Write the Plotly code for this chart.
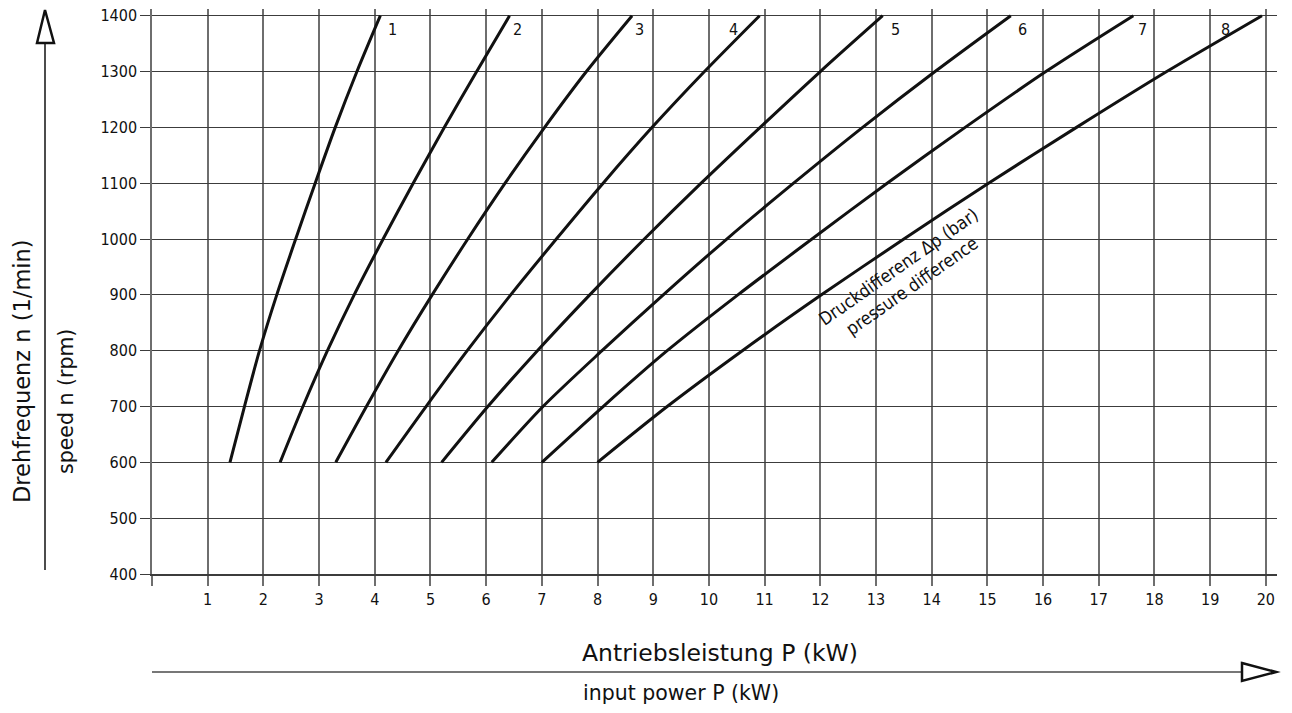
import plotly.graph_objects as go

# ---- data ----
speed_levels = [600, 700, 800, 900, 1000, 1100, 1200, 1300, 1400]
curve_labels = ["1", "2", "3", "4", "5", "6", "7", "8"]
power_dp1 = [1.40, 1.66, 1.93, 2.24, 2.58, 2.93, 3.29, 3.68, 4.10]
power_dp2 = [2.30, 2.71, 3.15, 3.63, 4.15, 4.69, 5.25, 5.83, 6.42]
power_dp3 = [3.30, 3.85, 4.42, 5.03, 5.67, 6.34, 7.05, 7.80, 8.62]
power_dp4 = [4.20, 4.92, 5.66, 6.44, 7.26, 8.10, 8.98, 9.92, 10.91]
power_dp5 = [5.20, 6.03, 6.92, 7.86, 8.84, 9.86, 10.92, 12.00, 13.12]
power_dp6 = [6.10, 7.02, 8.08, 9.18, 10.32, 11.52, 12.76, 14.06, 15.42]
power_dp7 = [7.00, 8.10, 9.25, 10.52, 11.85, 13.20, 14.60, 16.05, 17.62]
power_dp8 = [8.00, 9.25, 10.60, 12.02, 13.50, 15.02, 16.60, 18.22, 19.93]
power_series = [power_dp1, power_dp2, power_dp3, power_dp4,
                power_dp5, power_dp6, power_dp7, power_dp8]

x_ticks = list(range(0, 21))
x_tick_text = [""] + [str(v) for v in range(1, 21)]
y_ticks = list(range(400, 1401, 100))

# ---- style ----
FONT = "DejaVu Sans Condensed, DejaVu Sans, sans-serif"
TITLE_FONT = "DejaVu Sans, sans-serif"
INK = "#111111"
label_xshift = [12, 8, 7, -26, 13, 12, 9, -36]

W, H = 1292, 713
L, R, T, B = 152, 15, 9, 139
pw, ph = W - L - R, H - T - B


def px(x):
    return (x - L) / pw


def py(y):
    return (H - B - y) / ph


fig = go.Figure()
for name, xs in zip(curve_labels, power_series):
    fig.add_trace(go.Scatter(x=xs, y=speed_levels, mode="lines", name=name,
                             line=dict(color=INK, width=3, shape="spline", smoothing=0.8),
                             showlegend=False, hoverinfo="skip"))

annotations = []
for name, xs, dx in zip(curve_labels, power_series, label_xshift):
    annotations.append(dict(x=xs[-1], y=speed_levels[-1], xref="x", yref="y",
                            text=name, showarrow=False, xshift=dx, yshift=-14,
                            font=dict(family=FONT, size=16, color=INK)))

annotations.append(dict(x=13.52, y=934, xref="x", yref="y",
                        text="Druckdifferenz Δp (bar)<br>pressure difference",
                        showarrow=False, textangle=-35, align="center",
                        font=dict(family=FONT, size=18, color=INK)))

annotations += [
    dict(x=px(580), y=py(653), xref="paper", yref="paper", xanchor="left",
         yanchor="middle", text="Antriebsleistung P (kW)", showarrow=False,
         font=dict(family=TITLE_FONT, size=23.5, color=INK)),
    dict(x=px(581), y=py(693), xref="paper", yref="paper", xanchor="left",
         yanchor="middle", text="input power P (kW)", showarrow=False,
         font=dict(family=TITLE_FONT, size=20.5, color=INK)),
    dict(x=px(22), y=py(371), xref="paper", yref="paper", xanchor="center",
         yanchor="middle", text="Drehfrequenz n (1/min)", showarrow=False,
         textangle=-90, font=dict(family=TITLE_FONT, size=22.5, color=INK)),
    dict(x=px(66), y=py(402), xref="paper", yref="paper", xanchor="center",
         yanchor="middle", text="speed n (rpm)", showarrow=False,
         textangle=-90, font=dict(family=TITLE_FONT, size=20.5, color=INK)),
]

shapes = [
    # horizontal arrow
    dict(type="line", xref="paper", yref="paper", x0=px(152), x1=px(1242),
         y0=py(672), y1=py(672), line=dict(color="#777777", width=2)),
    dict(type="path", xref="paper", yref="paper",
         path=f"M {px(1242)} {py(663)} L {px(1276)} {py(672)} L {px(1242)} {py(681)} Z",
         line=dict(color=INK, width=2.5), fillcolor="white"),
    # vertical arrow
    dict(type="line", xref="paper", yref="paper", x0=px(45), x1=px(45),
         y0=py(570), y1=py(43), line=dict(color=INK, width=1.5)),
    dict(type="path", xref="paper", yref="paper",
         path=f"M {px(37)} {py(43)} L {px(45)} {py(10)} L {px(54)} {py(43)} Z",
         line=dict(color=INK, width=2.5), fillcolor="white"),
]

fig.update_layout(
    width=W, height=H,
    margin=dict(l=L, r=R, t=T, b=B, autoexpand=False),
    paper_bgcolor="white", plot_bgcolor="white",
    annotations=annotations, shapes=shapes,
    xaxis=dict(range=[0, 20.2], tickvals=x_ticks, ticktext=x_tick_text,
               showgrid=True, gridcolor="#6e6e6e", gridwidth=1.5,
               zeroline=False, showline=True, linecolor="#3c3c3c", linewidth=1.5,
               ticks="outside", ticklen=10, tickcolor="#6e6e6e", tickwidth=1.5,
               tickfont=dict(family=FONT, size=16, color=INK)),
    yaxis=dict(range=[400, 1412], tickvals=y_ticks,
               showgrid=True, gridcolor="#3c3c3c", gridwidth=1.3,
               zeroline=False, showline=True, linecolor="#6e6e6e", linewidth=1.5,
               ticks="outside", ticklen=10, tickcolor="#3c3c3c", tickwidth=1.3,
               tickfont=dict(family=FONT, size=16, color=INK)),
)

fig.write_html("out.html", config={"displayModeBar": False},
               post_script="document.body.style.margin='0px';"
                           "document.body.style.overflow='hidden';")
